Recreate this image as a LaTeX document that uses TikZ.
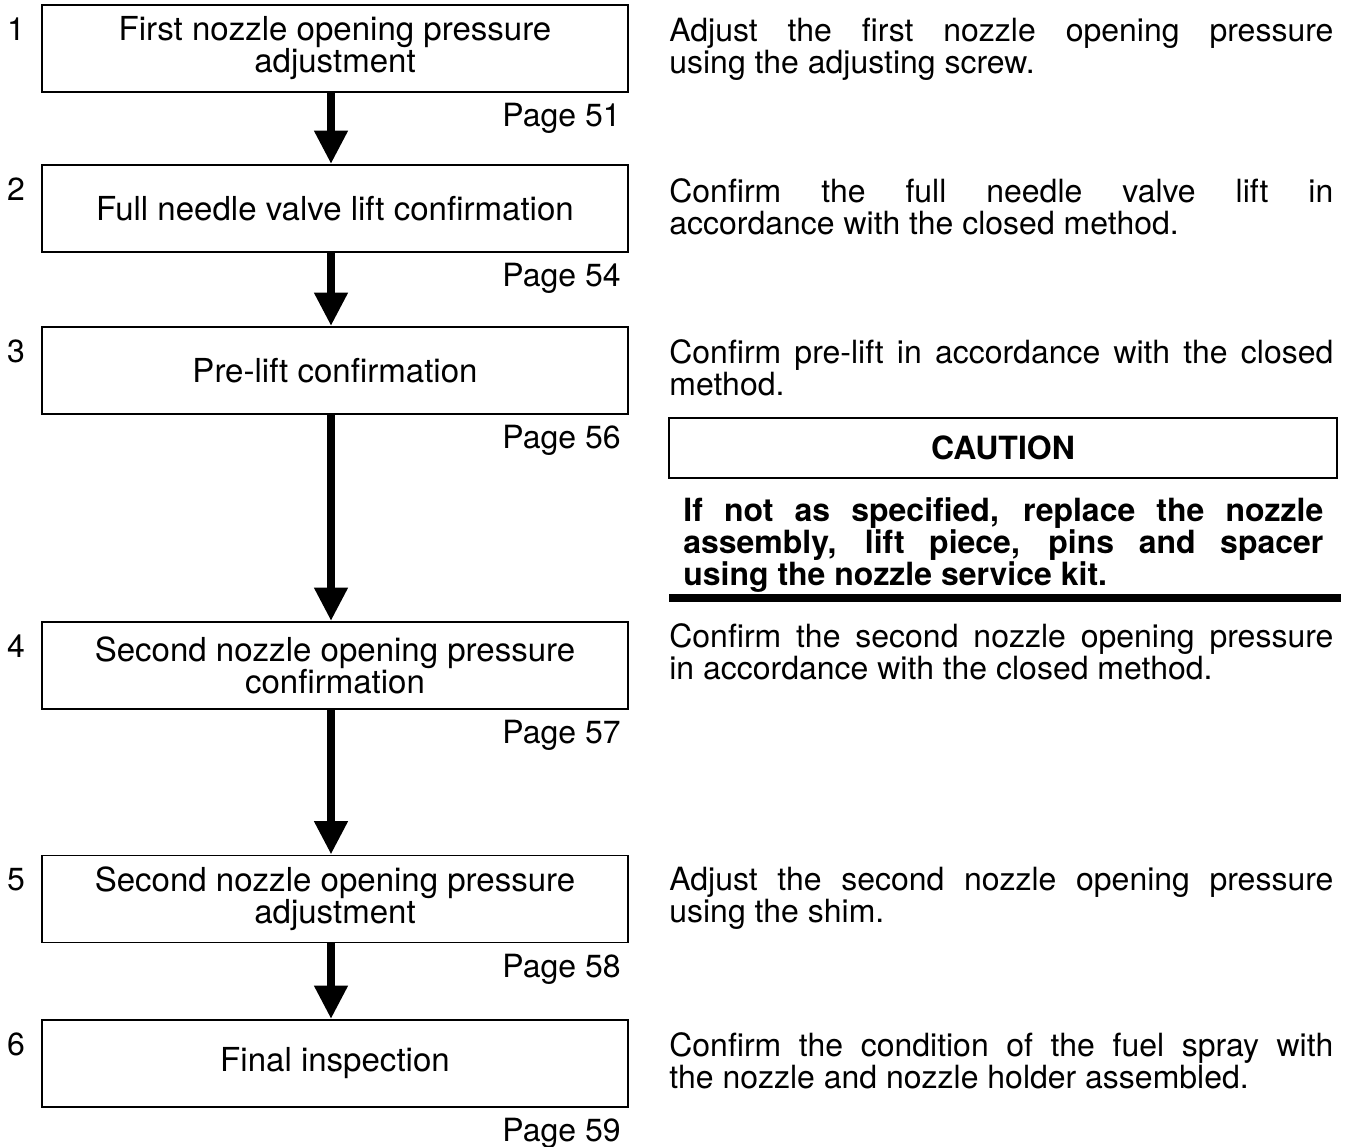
\documentclass[tikz,border=0pt]{standalone}
\usepackage{fontspec}
\setmainfont{TeX Gyre Heros}
\usetikzlibrary{arrows.meta,positioning,calc}
\tolerance=10000
\hbadness=10000
\hyphenpenalty=10000

\begin{document}
\begin{tikzpicture}[>={Triangle[width=18pt,length=19pt]},
  font=\fontsize{18.2}{18.2}\selectfont,
  stepbox/.style={draw,line width=1.1pt,minimum width=11.72cm,minimum height=1.74cm,align=center,inner sep=0pt,
    font=\fontsize{18.8}{18.2}\selectfont},
  stepno/.style={inner sep=0pt},
  pageref/.style={anchor=north east,inner sep=0pt},
  note/.style={anchor=north west,inner sep=0pt,text width=13.28cm,align=justify},
  flow/.style={->,line width=4.8pt}]
\useasboundingbox (0,0) rectangle (27,-22.92);
% procedure steps
\node[stepbox] (b1) at (6.7,-0.97) {First nozzle opening pressure\\adjustment};
\node[stepbox] (b2) at (6.7,-4.17) {Full needle valve lift confirmation};
\node[stepbox] (b3) at (6.7,-7.41) {Pre-lift confirmation};
\node[stepbox] (b4) at (6.7,-13.31) {Second nozzle opening pressure\\confirmation};
\node[stepbox] (b5) at (6.7,-17.98) {Second nozzle opening pressure\\adjustment};
\node[stepbox] (b6) at (6.7,-21.27) {Final inspection};
% step numbers and page references
\foreach \i/\pg in {1/51,2/54,3/56,4/57,5/58,6/59}{
  \node[stepno] (n\i) at ([shift={(-0.5,-0.5)}]b\i.north west) {\i};
  \node[pageref] (p\i) at ([shift={(-0.16,-0.2)}]b\i.south east) {Page \pg};
}
% flow arrows
\begin{scope}[transform canvas={xshift=-0.08cm}]
\draw[flow] (b1) -- (b2);
\draw[flow] (b2) -- (b3);
\draw[flow] (b3) -- (b4);
\draw[flow] (b4) -- (b5);
\draw[flow] (b5) -- (b6);
\end{scope}
% descriptions
\node[note] (d1) at (13.38,-0.36) {Adjust the first nozzle opening pressure\linebreak using the adjusting screw.};
\node[note] (d2) at (13.38,-3.56) {Confirm the full needle valve lift in\linebreak accordance with the closed method.};
\node[note] (d3) at (13.38,-6.78) {Confirm pre-lift in accordance with the closed\linebreak method.};
\node[note] (d4) at (13.38,-12.46) {Confirm the second nozzle opening pressure\linebreak in accordance with the closed method.};
\node[note] (d5) at (13.38,-17.34) {Adjust the second nozzle opening pressure\linebreak using the shim.};
\node[note] (d6) at (13.38,-20.64) {Confirm the condition of the fuel spray with\linebreak the nozzle and nozzle holder assembled.};
% caution block
\node[draw,line width=1.1pt,minimum width=13.36cm,minimum height=1.2cm,font=\fontsize{18.2}{18.2}\selectfont\bfseries] (caut) at (20.06,-8.96) {CAUTION};
\node[note,text width=12.8cm,font=\fontsize{18.2}{18.2}\selectfont\bfseries] (cnote) at (13.66,-9.94)
  {If not as specified, replace the nozzle\linebreak assembly, lift piece, pins and spacer\linebreak using the nozzle service kit.};
\coordinate (rl) at (13.38,-11.96);
\coordinate (rr) at (26.82,-11.96);
\draw[line width=4pt] (rl) -- (rr);
\end{tikzpicture}
\end{document}
